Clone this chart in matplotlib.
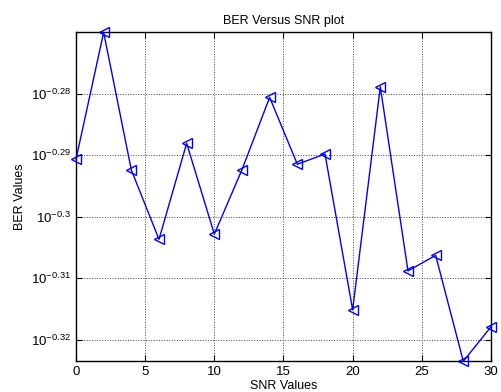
import numpy as np
import matplotlib.pyplot as plt
from matplotlib.ticker import FixedLocator, FixedFormatter, NullLocator

plt.rcParams['font.family'] = ['Liberation Sans', 'DejaVu Sans']
plt.rcParams['mathtext.fontset'] = 'custom'
plt.rcParams['mathtext.rm'] = 'Liberation Sans'
plt.rcParams['mathtext.it'] = 'Liberation Sans'

snr = [0, 2, 4, 6, 8, 10, 12, 14, 16, 18, 20, 22, 24, 26, 28, 30]
ber_log = [-0.29065, -0.2700, -0.29239, -0.30367, -0.28805, -0.30281,
           -0.29234, -0.28058, -0.29146, -0.28979, -0.31513, -0.27886,
           -0.30880, -0.30627, -0.3235, -0.31789]
ber = [10 ** v for v in ber_log]

ytick_exp = ['-0.32', '-0.31', '-0.3', '-0.29', '-0.28']

fig = plt.figure(figsize=(5.01, 3.92), dpi=100)
ax = fig.add_axes([0.1517, 0.0783, 0.8283, 0.8393])

ax.plot(snr, ber, color='blue', marker='<', markerfacecolor='none',
        markersize=7, linewidth=1, clip_on=False, zorder=3)
ax.set_yscale('log')
ax.set_xlim(0, 30)
ax.set_ylim(min(ber), max(ber))
ax.set_xticks([0, 5, 10, 15, 20, 25, 30])
ax.yaxis.set_major_locator(FixedLocator([10 ** float(e) for e in ytick_exp]))
ax.yaxis.set_major_formatter(FixedFormatter(['$10^{' + e + '}$' for e in ytick_exp]))
ax.yaxis.set_minor_locator(NullLocator())

ax.grid(True, color='#404040', linestyle=':', linewidth=0.7)
ax.tick_params(direction='in', top=True, right=True, labelsize=9.5, length=4)
for s in ax.spines.values():
    s.set_linewidth(1)

ax.set_title('BER Versus SNR plot', fontsize=9)
ax.set_xlabel('SNR Values', fontsize=9, labelpad=1)
ax.set_ylabel('BER Values', fontsize=9)

fig.savefig('out.png', dpi=100)
